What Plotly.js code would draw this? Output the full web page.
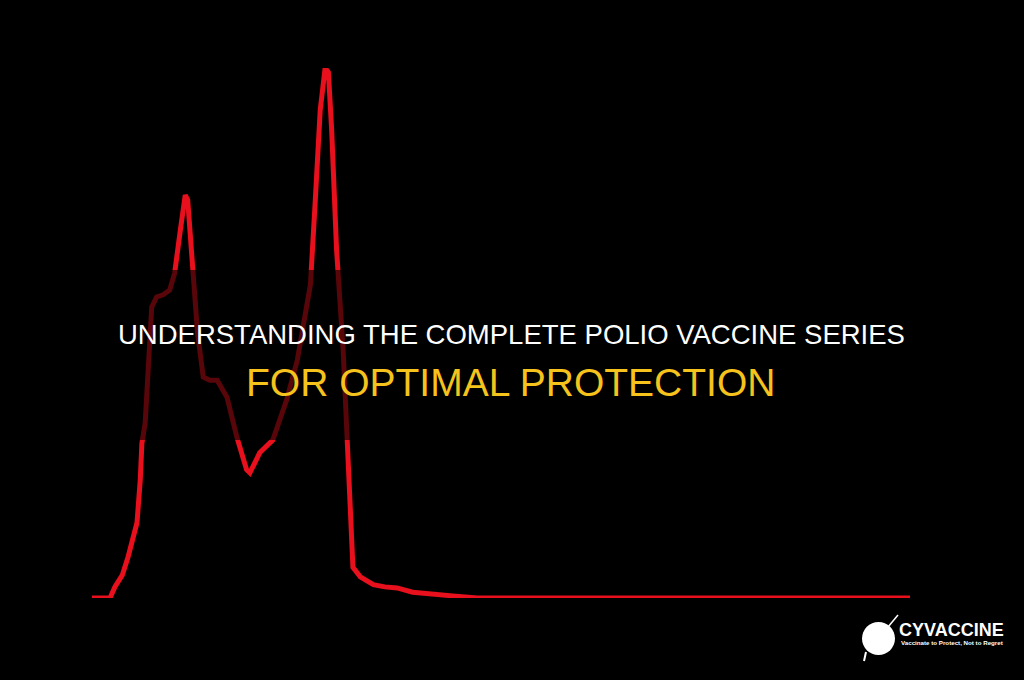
<!DOCTYPE html>
<html>
<head>
<meta charset="utf-8">
<script src="https://cdn.plot.ly/plotly-3.0.1.min.js"></script>
<style>
html,body{margin:0;padding:0;background:#000;}
#chart{width:1024px;height:680px;}
</style>
</head>
<body>
<div id="chart"></div>
<script>
// Time axis (relative units) and response level (relative units)
const timePoints = [0, 2.2, 2.8, 3.7, 4.4, 5.0, 5.5, 5.9, 6.1, 6.5, 7.1, 7.3, 7.9, 8.7, 9.5, 10.1, 10.8, 11.4, 11.7, 12.3, 12.6, 12.9, 13.6, 14.4, 15.3, 16.5, 17.7, 18.9, 19.3, 20.5, 22.1, 23.0, 23.8, 25.1, 26.0, 26.7, 27.3, 27.9, 28.5, 28.9, 29.3, 29.9, 30.7, 31.2, 31.5, 31.9, 32.8, 34.4, 35.8, 37.3, 39.2, 41.3, 44.1, 47.1, 62.1, 100];
const levelValues = [0, 0, 2.1, 4.3, 7.7, 10.9, 14.2, 22.3, 29.2, 33.0, 46.8, 54.9, 56.8, 57.2, 58.1, 61.3, 69.4, 76.0, 75.1, 61.3, 57.5, 50.0, 41.7, 41.1, 41.1, 37.9, 30.4, 24.2, 23.6, 27.4, 29.8, 33.6, 37.4, 44.9, 52.5, 59.1, 75.1, 92.1, 100, 99.2, 88.3, 65.7, 46.8, 29.8, 14.7, 5.8, 4.0, 2.5, 2.1, 1.9, 1.1, 0.9, 0.4, 0, 0, 0];

const titleLine1 = "UNDERSTANDING THE COMPLETE POLIO VACCINE SERIES";
const titleLine2 = "FOR OPTIMAL PROTECTION";
const brandName = "CYVACCINE";
const brandSlogan = "Vaccinate to Protect, Not to Regret";

// pixel -> paper helpers (plot area: x 92..910, y 68..598)
const L = 92, R = 910, T = 68, B = 598;
const px = x => (x - L) / (R - L);
const py = y => (B - y) / (B - T);

const trace = {
  x: timePoints,
  y: levelValues,
  type: 'scatter',
  mode: 'lines',
  line: {color: '#e8101c', width: 5, shape: 'linear'},
  cliponaxis: false,
  hoverinfo: 'skip'
};

const layout = {
  width: 1024, height: 680,
  paper_bgcolor: '#000', plot_bgcolor: '#000',
  margin: {l: L, r: 1024 - R, t: T, b: 680 - B, pad: 0},
  showlegend: false,
  xaxis: {range: [0, 100], visible: false, fixedrange: true},
  yaxis: {range: [0, 100], visible: false, fixedrange: true},
  shapes: [
    {type: 'rect', xref: 'paper', yref: 'paper', x0: px(-5), x1: px(1030), y0: py(440), y1: py(270),
     fillcolor: 'rgba(0,0,0,0.62)', line: {width: 0}, layer: 'above'},
    {type: 'circle', xref: 'paper', yref: 'paper', x0: px(862), x1: px(895), y0: py(655), y1: py(622),
     fillcolor: '#fff', line: {width: 0}, layer: 'above'},
    {type: 'line', xref: 'paper', yref: 'paper', x0: px(888), x1: px(898), y0: py(627), y1: py(615),
     line: {color: '#fff', width: 1.5}, layer: 'above'},
    {type: 'line', xref: 'paper', yref: 'paper', x0: px(866), x1: px(864), y0: py(652), y1: py(661),
     line: {color: '#fff', width: 2}, layer: 'above'}
  ],
  annotations: [
    {text: titleLine1, xref: 'paper', yref: 'paper', x: px(511), y: py(334), xanchor: 'center', yanchor: 'middle',
     showarrow: false, font: {family: 'Liberation Sans, Arial, sans-serif', size: 27.5, color: '#ffffff'}},
    {text: titleLine2, xref: 'paper', yref: 'paper', x: px(510), y: py(382), xanchor: 'center', yanchor: 'middle',
     showarrow: false, font: {family: 'Liberation Sans, Arial, sans-serif', size: 39, color: '#f6c21c'}},
    {text: '<b>' + brandName + '</b>', xref: 'paper', yref: 'paper', x: px(897), y: py(630), xanchor: 'left', yanchor: 'middle',
     showarrow: false, font: {family: 'Liberation Sans, Arial, sans-serif', size: 18, color: '#ffffff'}},
    {text: '<b>' + brandSlogan + '</b>', xref: 'paper', yref: 'paper', x: px(899), y: py(642), xanchor: 'left', yanchor: 'middle',
     showarrow: false, font: {family: 'Liberation Sans, Arial, sans-serif', size: 6.2, color: '#ffffff'}}
  ]
};

Plotly.newPlot('chart', [trace], layout, {displayModeBar: false, staticPlot: true});
</script>
</body>
</html>
